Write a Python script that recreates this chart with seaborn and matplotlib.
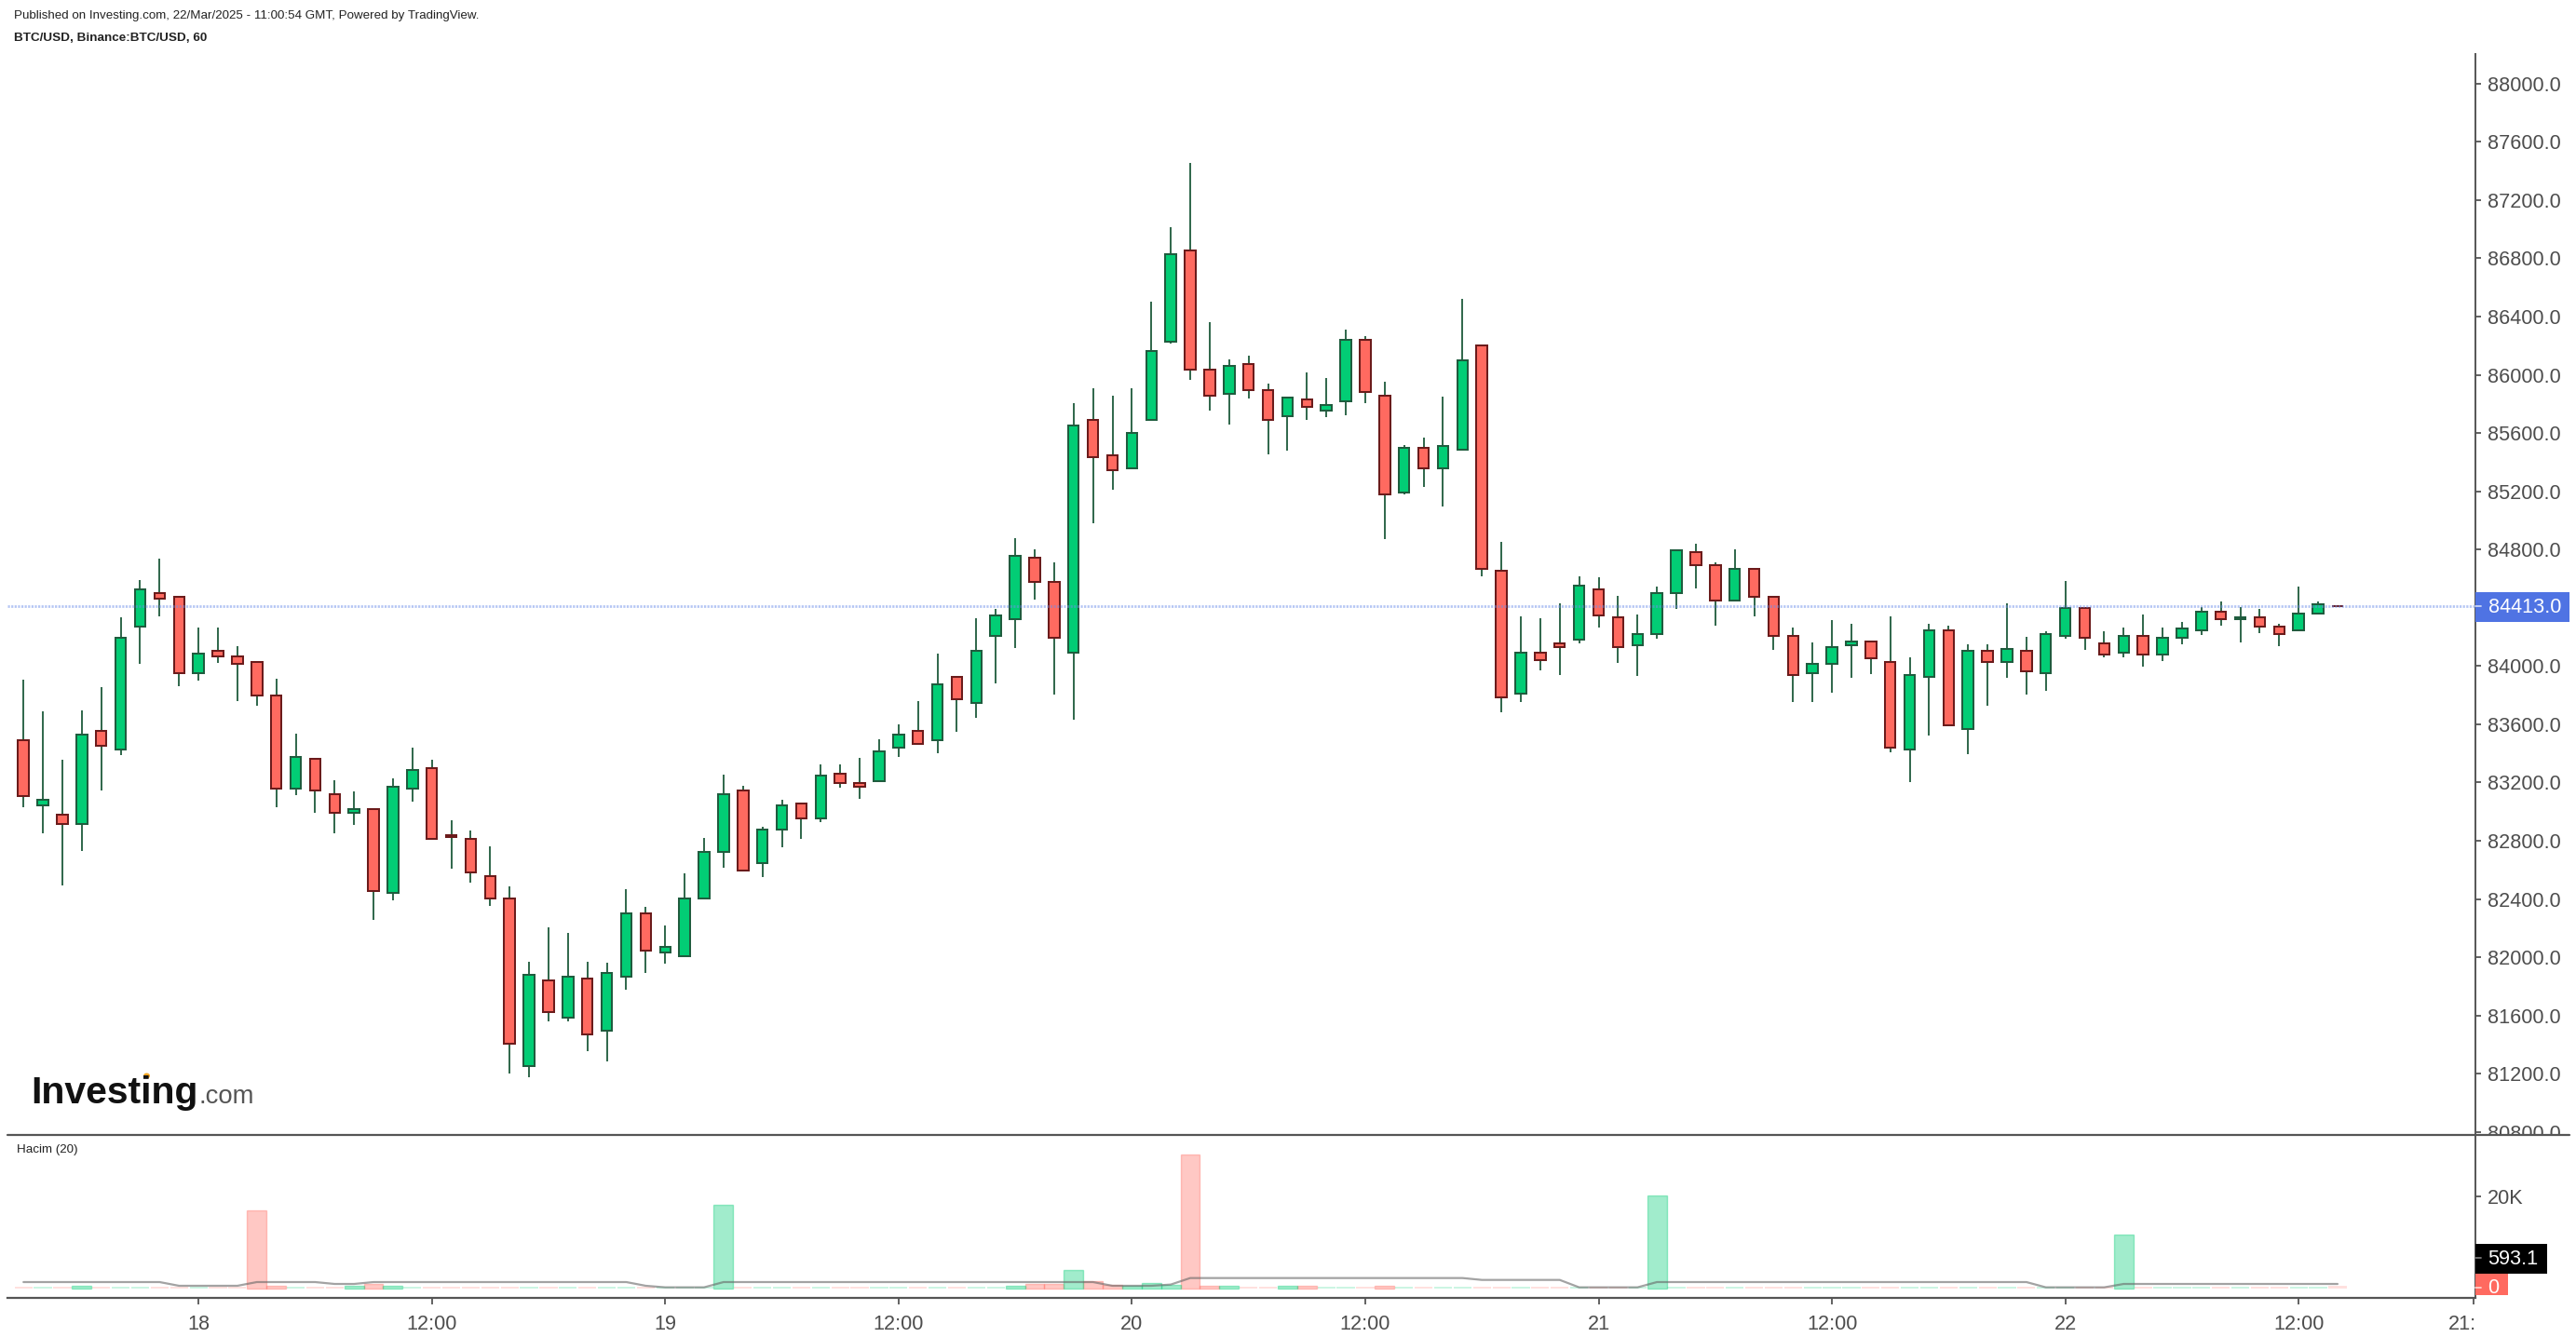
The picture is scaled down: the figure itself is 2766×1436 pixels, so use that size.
import matplotlib
matplotlib.use("Agg")
import matplotlib.pyplot as plt
import matplotlib.transforms as mtrans
from matplotlib.patches import Rectangle, Ellipse
from matplotlib.lines import Line2D
import numpy as np
import pandas as pd
import seaborn as sns

W, H = 2766, 1436

highs = [83903,83686,83354,83697,83853,84337,84593,84734,84475,84261,
         84261,84135,84029,83915,83533,83363,83213,83137,83019,83225,
         83442,83354,82943,82867,82764,82485,81971,82203,82165,81971,
         81959,82470,82344,82215,82573,82817,83251,83175,82893,83084,
         83057,83327,83327,83366,83495,83598,83762,84082,83926,84326,
         84390,84875,84798,84710,85808,85910,85859,85910,86500,87011,
         87458,86360,86104,86128,85937,85846,86013,85975,86309,86268,
         85951,85515,85566,85848,86524,86204,84850,84339,84325,84428,
         84618,84608,84479,84351,84543,84797,84837,84709,84799,84669,
         84477,84262,84160,84313,84287,84170,84339,84057,84287,84275,
         84147,84147,84428,84198,84236,84581,84400,84236,84262,84351,
         84262,84300,84403,84441,84403,84390,84287,84543,84441,84414]
body_tops = [83492,83081,82981,83530,83556,84193,84528,84502,84475,84082,
             84105,84067,84029,83797,83377,83363,83119,83019,83019,83172,
             83286,83298,82840,82814,82558,82406,81880,81842,81868,81854,
             81892,82303,82303,82071,82406,82723,83119,83145,82878,83043,
             83057,83248,83260,83198,83416,83530,83556,83874,83926,84105,
             84349,84757,84745,84578,85652,85692,85447,85601,86163,86828,
             86855,86037,86061,86075,85897,85846,85832,85795,86241,86241,
             85857,85499,85499,85512,86101,86204,84656,84094,84094,84156,
             84554,84527,84337,84221,84503,84797,84784,84695,84669,84669,
             84477,84209,84017,84132,84170,84170,84029,83940,84247,84247,
             84106,84106,84119,84106,84221,84400,84400,84157,84209,84209,
             84196,84260,84375,84375,84337,84337,84272,84362,84426,84414]
body_bottoms = [83107,83043,82917,82914,83451,83427,84270,84461,83950,83950,
                84064,84014,83797,83157,83157,83145,82993,82993,82456,82441,
                83157,82814,82825,82582,82403,81405,81252,81622,81584,81469,
                81496,81865,82045,82033,82006,82403,82723,82594,82646,82875,
                82952,82952,83195,83169,83210,83439,83465,83489,83771,83744,
                84205,84320,84578,84193,84094,85437,85345,85356,85690,86225,
                86037,85857,85867,85894,85690,85714,85778,85754,85819,85883,
                85178,85189,85356,85356,85485,84667,83787,83809,84040,84129,
                84180,84347,84128,84140,84217,84498,84690,84447,84447,84473,
                84204,83938,83949,84012,84140,84051,83437,83424,83923,83591,
                83565,84025,84025,83961,83949,84204,84191,84076,84089,84076,
                84076,84191,84243,84319,84319,84268,84217,84243,84358,84412]
lows = [83028,82852,82491,82732,83143,83386,84012,84343,83859,83897,
        84023,83756,83730,83028,83116,82990,82849,82911,82259,82388,
        83066,82814,82605,82514,82350,81199,81173,81557,81557,81352,
        81287,81774,81889,81954,82006,82403,82617,82594,82552,82758,
        82811,82925,83166,83090,83210,83372,83465,83398,83551,83642,
        83882,84126,84458,83806,83628,84982,85213,85356,85690,86212,
        85967,85752,85660,85840,85456,85482,85687,85711,85725,85803,
        84869,85176,85227,85095,85485,84613,83680,83755,83973,83935,
        84153,84266,84023,83934,84189,84394,84535,84279,84447,84343,
        84113,83755,83755,83819,83921,83946,83409,83205,83524,83591,
        83397,83729,83921,83806,83831,84189,84113,84062,84062,83998,
        84036,84151,84215,84279,84164,84228,84138,84243,84358,84412]
directions = list("rgrgrggrrg" "rrrrgrrgrg" "grrrrrgrgr" "ggrggggrgg"
                  "rgrrggrgrg" "ggrrgrrggg" "rrgrrgrggr" "rgrggrrgrr"
                  "grrgggrrgr" "rrgggrrggr" "grgrggrrgr" "gggrgrrggr")
volumes = [300,300,300,500,300,300,300,300,300,300,
           300,300,16950,500,300,300,300,500,820,500,
           300,300,300,300,300,300,300,300,300,300,
           300,300,300,300,300,300,18110,300,300,300,
           300,300,300,300,300,300,300,300,300,300,
           300,500,820,820,3900,1560,680,500,1130,750,
           29140,500,500,300,300,500,500,300,300,300,
           500,300,300,300,300,300,300,300,300,300,
           300,300,300,300,20140,300,300,300,300,300,
           300,300,300,300,300,300,300,300,300,300,
           300,300,300,300,300,300,300,300,11610,300,
           300,300,300,300,300,300,300,300,300,593.1]
volume_ma = [1320,1320,1320,1320,1320,1320,1320,1320,510,510,
             510,510,1320,1320,1320,1320,910,910,1320,1320,
             1320,1320,1320,1320,1320,1320,1320,1320,1320,1320,
             1320,1320,510,170,170,170,1320,1320,1320,1320,
             1320,1320,1320,1320,1320,1320,1320,1320,1320,1320,
             1320,1320,1320,1320,1320,1320,510,510,510,780,
             2200,2200,2200,2200,2200,2200,2200,2200,2200,2200,
             2200,2200,2200,2200,2200,1790,1790,1790,1790,1790,
             170,170,170,170,1320,1320,1320,1320,1320,1320,
             1320,1320,1320,1320,1320,1320,1320,1320,1320,1320,
             1320,1320,1320,1320,170,170,170,170,910,910,
             910,910,910,910,910,910,910,910,910,910]
price_ticks = [80800,81200,81600,82000,82400,82800,83200,83600,84000,
               84800,85200,85600,86000,86400,86800,87200,87600,88000]
time_tick_pos = [9,21,33,45,57,69,81,93,105,117,126]
time_tick_labels = ["18","12:00","19","12:00","20","12:00","21","12:00","22","12:00","21:00"]
last_price = 84413

UP, DOWN = "#02cd75", "#ff6a60"
UP_EDGE, DOWN_EDGE = "#1f5c3e", "#6b1b1b"
WICK = "#1e5a3c"
AXC = "#555555"
TXT = "#4d4d4d"

sns.set_theme(style="white")
plt.rcParams["font.family"] = ["Liberation Sans", "DejaVu Sans"]

candles = pd.DataFrame({"idx": np.arange(len(highs)), "high": highs, "top": body_tops,
                        "bottom": body_bottoms, "low": lows, "dir": directions,
                        "volume": volumes, "ma": volume_ma})

fig = plt.figure(figsize=(W / 100, H / 100), dpi=100, facecolor="white")
tr = mtrans.Affine2D().scale(1 / W, -1 / H).translate(0, 1) + fig.transFigure

ax = fig.add_axes([8 / W, 1 - 1219 / H, 2650 / W, 1161 / H])
vx = fig.add_axes([8 / W, 1 - 1393.7 / H, 2650 / W, 174.7 / H])
xlim = (-0.824, 126.09)

# Price panel
ax.vlines(candles["idx"], candles["low"], candles["high"], color=WICK, lw=1.3, zorder=2)
for d, fc, ec in (("g", UP, UP_EDGE), ("r", DOWN, DOWN_EDGE)):
    c = candles[candles["dir"] == d]
    ax.bar(c["idx"], c["top"] - c["bottom"], bottom=c["bottom"], width=0.55,
           color=fc, edgecolor=ec, linewidth=1.45, zorder=3)
ax.axhline(last_price, color="#6f8fea", alpha=0.5, lw=2.0, ls=(0, (0.8, 0.5)), zorder=4)
ax.set_xlim(*xlim)
ax.set_ylim(80779, 88203)
ax.set_xticks([])
ax.yaxis.tick_right()
ax.set_yticks(price_ticks)
ax.set_yticklabels([f"{t}.0" for t in price_ticks])
ax.tick_params(axis="y", length=4.3, width=1.3, color=AXC, labelcolor=TXT,
               labelsize=15.6, pad=5, left=False, right=True)
ax.set_xlabel(""); ax.set_ylabel("")

# Volume panel
sns.barplot(data=candles, x="idx", y="volume", hue="dir", palette={"g": UP, "r": DOWN},
            native_scale=True, width=1, dodge=False, saturation=1, errorbar=None,
            alpha=0.37, linewidth=1.0, legend=False, ax=vx)
for p in vx.patches:
    p.set_edgecolor(p.get_facecolor())
    if p.get_height() < 400 or p.get_height() == volumes[-1]:
        # the quiet hours show up as pale, separated dashes on the baseline
        p.set_linewidth(0)
        p.set_alpha(0.2)
        p.set_x(p.get_x() + 0.04)
        p.set_width(p.get_width() - 0.08)
sns.lineplot(data=candles, x="idx", y="ma", color="#666666", alpha=0.6, lw=1.6,
             errorbar=None, ax=vx, zorder=5)
vx.set_xlim(*xlim)
vx.set_ylim(-2071, 33401)
vx.set_xlabel(""); vx.set_ylabel("")
vx.yaxis.tick_right()
vx.set_yticks([20000])
vx.set_yticklabels(["20K"])
vx.set_xticks(time_tick_pos)
vx.set_xticklabels(time_tick_labels)
vx.tick_params(axis="y", length=4.3, width=1.3, color=AXC, labelcolor=TXT,
               labelsize=15.6, pad=5, left=False, right=True)
vx.tick_params(axis="x", length=5, width=1.3, color=AXC, labelcolor=TXT,
               labelsize=15.6, pad=8, bottom=True)

for a in (ax, vx):
    a.set_facecolor("none")
    for s in a.spines.values():
        s.set_visible(False)
    a.spines["right"].set_visible(True)
    a.spines["right"].set_color(AXC)
    a.spines["right"].set_linewidth(1.4)
vx.spines["bottom"].set_visible(True)
vx.spines["bottom"].set_color(AXC)
vx.spines["bottom"].set_linewidth(1.6)

# Clipped labels at the panel edges
price_clip = mtrans.Bbox([[0, H - 1219], [W, H]])
for lab in ax.get_yticklabels():
    lab.set_clip_box(price_clip)
    lab.set_clip_on(True)
time_clip = mtrans.Bbox([[0, 0], [2657, H]])
for lab in vx.get_xticklabels():
    lab.set_clip_box(time_clip)
    lab.set_clip_on(True)

# Separator between panels
fig.add_artist(Line2D([8, 2759], [1219, 1219], transform=tr, color=AXC, lw=1.6))

# Last-value flags
def flag(x0, y0, x1, y1, fc, text, tx, ty, tick_y=None, tick_c=AXC):
    fig.add_artist(Rectangle((x0, y0), x1 - x0, y1 - y0, transform=tr, facecolor=fc,
                             edgecolor="none"))
    fig.text(tx, ty, text, transform=tr, color="white", fontsize=15.6, ha="left", va="center")
    if tick_y is not None:
        fig.add_artist(Line2D([2658, 2664], [tick_y, tick_y], transform=tr, color=tick_c, lw=1.3))

flag(2658, 636, 2759, 667.7, "#4f73e3", "84413.0", 2671.7, 652, 650.7, "#c9d5f7")
flag(2657.5, 1336, 2735, 1367.7, "black", "593.1", 2671, 1352, 1351, "#777777")
flag(2657.5, 1368, 2693, 1391, DOWN, "0", 2670.7, 1383.5, 1382.7, "#ffd0cc")

# Header and pane texts
fig.text(15, 17, "Published on Investing.com, 22/Mar/2025 - 11:00:54 GMT, Powered by TradingView.",
         transform=tr, fontsize=9.6, color="#222222", ha="left", va="center")
fig.text(15, 40.5, "BTC/USD, Binance:BTC/USD, 60", transform=tr, fontsize=9.7,
         fontweight="bold", color="#222222", ha="left", va="center")
fig.text(18.5, 1235, "Hacim (20)", transform=tr, fontsize=9.6, color="#222222", ha="left", va="center")

# Logo
fig.text(33, 1185, "Investing", transform=tr, fontsize=29.5, fontweight="bold", color="#111111",
         ha="left", va="baseline")
fig.text(214, 1185, ".com", transform=tr, fontsize=19.8, color="#555555", ha="left", va="baseline")
fig.add_artist(Ellipse((157.5, 1155.5), 7, 6, transform=tr, facecolor="#f5a623", edgecolor="none"))

fig.savefig("out.png", dpi=100, facecolor="white")
